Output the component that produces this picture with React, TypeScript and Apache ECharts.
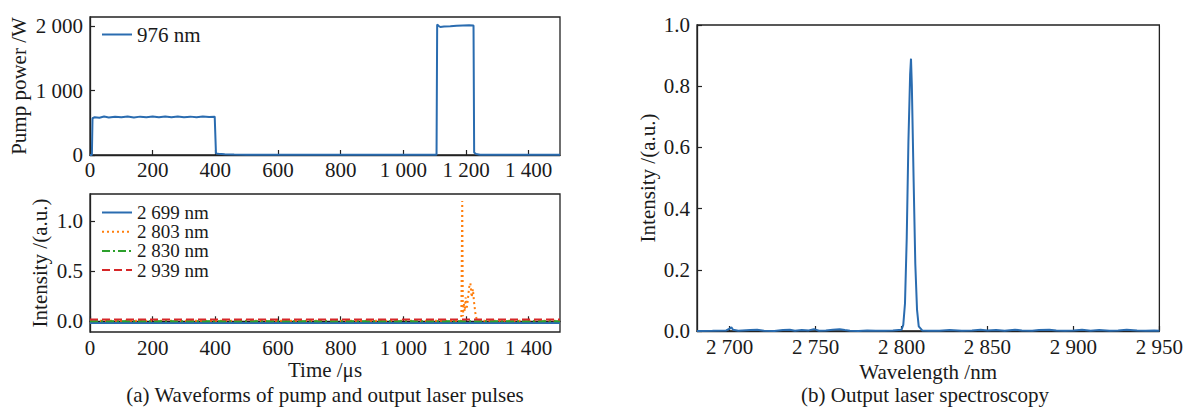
import React, { useEffect, useRef } from "react";
import * as echarts from "echarts";

const FONT = '"Liberation Serif", "Times New Roman", serif';
const TXT = "#1a1a1a";
const FS = 21;
const BLUE = "#2a6cb0";
const ORANGE = "#ff7f0e";
const GREEN = "#2ca02c";
const RED = "#d62728";

// (a) top: pump power (976 nm), [time µs, power W]
const PUMP: number[][] = [
  [0, 0], [6, 0], [8, 570], [15, 585], [30, 578], [45, 596], [60, 582], [80, 594], [100, 584],
  [120, 597], [140, 583], [160, 595], [180, 586], [200, 598], [220, 584], [240, 596], [260, 585],
  [280, 597], [300, 586], [320, 595], [340, 584], [360, 597], [380, 588], [398, 595], [400, 590],
  [402, 25], [410, 18], [430, 12], [460, 8], [500, 5], [550, 2], [600, 3], [700, 2], [800, 3],
  [900, 2], [1000, 3], [1106, 3], [1108, 2025], [1112, 2005], [1118, 1985], [1130, 1992],
  [1150, 1995], [1170, 2003], [1190, 2008], [1210, 2012], [1224, 2010], [1226, 40], [1232, 15],
  [1245, 4], [1300, 2], [1400, 3], [1500, 2],
];

// (a) bottom: output intensities, [time µs, a.u.]
const I_2699: number[][] = [[0, -0.018], [1500, -0.018]];
const I_2803: number[][] = [
  [0, 0.006], [1185, 0.006], [1188, 1.2], [1190, 0.05], [1193, 0.18], [1196, 0.1], [1199, 0.24],
  [1202, 0.12], [1206, 0.22], [1210, 0.34], [1214, 0.38], [1218, 0.24], [1222, 0.32],
  [1226, 0.18], [1230, 0.08], [1234, 0.02], [1237, 0.006], [1500, 0.006],
];
const I_2830: number[][] = [[0, 0.0], [1500, 0.0]];
const I_2939: number[][] = [[0, 0.018], [1500, 0.018]];

// (b) spectrum, [wavelength nm, a.u.]
const SPEC: number[][] = [
  [2681, 0], [2690, 0.001], [2698, 0.002], [2700, 0.008], [2701, 0.012], [2702, 0.004],
  [2705, 0.001], [2712, 0.003], [2716, 0.004], [2720, 0.001], [2726, 0], [2731, 0.003],
  [2735, 0.004], [2738, 0.001], [2742, 0.003], [2746, 0.002], [2749, 0.006], [2752, 0.001],
  [2756, 0.002], [2760, 0.004], [2764, 0.006], [2767, 0.003], [2770, 0.001], [2775, 0],
  [2780, 0.002], [2785, 0.001], [2790, 0.001], [2795, 0.002], [2800, 0.004], [2801, 0.02],
  [2802, 0.09], [2803, 0.3], [2804, 0.62], [2805, 0.84], [2805.5, 0.89], [2806, 0.8],
  [2807, 0.5], [2808, 0.22], [2809, 0.07], [2810, 0.015], [2812, 0.002], [2816, 0.001],
  [2822, 0.001], [2828, 0.003], [2835, 0.001], [2841, 0.002], [2846, 0.004], [2850, 0.002],
  [2855, 0.003], [2860, 0.001], [2866, 0.004], [2870, 0.002], [2876, 0.001], [2880, 0.003],
  [2886, 0.004], [2890, 0.002], [2895, 0.001], [2900, 0.002], [2905, 0.004], [2910, 0.001],
  [2915, 0.003], [2921, 0.001], [2926, 0.002], [2931, 0.004], [2937, 0.002], [2942, 0.001],
  [2947, 0.002], [2950, 0.001],
];

const TIME_TICKS = [0, 200, 400, 600, 800, 1000, 1200, 1400];
const PUMP_TICKS = [0, 1000, 2000];
const INT_TICKS = [0, 0.5, 1.0];
const SPEC_TICKS = [0, 0.2, 0.4, 0.6, 0.8, 1.0];
const WL_TICKS = [2700, 2750, 2800, 2850, 2900, 2950];

const thousands = (v: number) => {
  const s = String(Math.round(v));
  return s.length > 3 ? s.slice(0, s.length - 3) + " " + s.slice(-3) : s;
};

const labelStyle = { fontFamily: FONT, fontSize: FS, color: TXT };
const nameStyle = { fontFamily: FONT, fontSize: FS, color: TXT };

function xAxis(gridIndex: number, min: number, max: number, ticks: number[], name: string, gap: number, margin: number) {
  return {
    type: "value",
    gridIndex,
    min,
    max,
    name,
    nameLocation: "middle",
    nameGap: gap,
    nameTextStyle: nameStyle,
    splitLine: { show: false },
    axisLine: { show: true, lineStyle: { color: "#222", width: 1.3 } },
    axisTick: { show: true, inside: true, length: 5, customValues: ticks, lineStyle: { color: "#222", width: 1.2 } },
    axisLabel: { customValues: ticks, formatter: thousands, margin, ...labelStyle },
  };
}

function yAxis(gridIndex: number, min: number, max: number, ticks: number[], fmt: (v: number) => string, name: string, gap: number) {
  return {
    type: "value",
    gridIndex,
    min,
    max,
    name,
    nameLocation: "middle",
    nameGap: gap,
    nameTextStyle: nameStyle,
    splitLine: { show: false },
    axisLine: { show: true, lineStyle: { color: "#222", width: 1.3 } },
    axisTick: { show: true, inside: true, length: 5, customValues: ticks, lineStyle: { color: "#222", width: 1.2 } },
    axisLabel: { customValues: ticks, formatter: fmt, margin: 7, ...labelStyle },
  };
}

const gridStyle = { show: true, borderColor: "#222", borderWidth: 1.3, containLabel: false };

const legendBase = {
  orient: "vertical",
  padding: 0,
  itemWidth: 30,
  itemHeight: 12,
  itemStyle: { opacity: 0 },
  textStyle: { fontFamily: FONT, fontSize: FS, color: TXT },
};

const option = {
  animation: false,
  backgroundColor: "#ffffff",
  textStyle: { fontFamily: FONT },
  grid: [
    { left: 90, top: 17, width: 470, height: 138, ...gridStyle },
    { left: 90, top: 194, width: 470, height: 138, ...gridStyle },
    { left: 697, top: 25, width: 469, height: 306, ...gridStyle },
  ],
  xAxis: [
    xAxis(0, 0, 1500, TIME_TICKS, "", 0, 4.5),
    xAxis(1, 0, 1500, TIME_TICKS, "Time /μs", 27.5, 5.5),
    xAxis(2, 2681, 2950, WL_TICKS, "Wavelength /nm", 26.5, 5),
  ],
  yAxis: [
    yAxis(0, 0, 2140, PUMP_TICKS, thousands, "Pump power /W", 61),
    yAxis(1, -0.107, 1.27, INT_TICKS, (v: number) => v.toFixed(1), "Intensity /(a.u.)", 39.5),
    yAxis(2, 0, 1, SPEC_TICKS, (v: number) => v.toFixed(1), "Intensity /(a.u.)", 38.5),
  ],
  legend: [
    { ...legendBase, data: ["976 nm"], left: 101, top: 24 },
    {
      ...legendBase,
      data: ["2 699 nm", "2 803 nm", "2 830 nm", "2 939 nm"],
      left: 101,
      top: 203,
      itemGap: 0.2,
      textStyle: { fontFamily: FONT, fontSize: 19, color: TXT },
    },
  ],
  series: [
    {
      name: "976 nm", type: "line", xAxisIndex: 0, yAxisIndex: 0, data: PUMP,
      symbol: "none", lineStyle: { color: BLUE, width: 2 }, itemStyle: { color: BLUE },
    },
    {
      name: "2 699 nm", type: "line", xAxisIndex: 1, yAxisIndex: 1, data: I_2699,
      symbol: "none", lineStyle: { color: BLUE, width: 2 }, itemStyle: { color: BLUE },
    },
    {
      name: "2 803 nm", type: "line", xAxisIndex: 1, yAxisIndex: 1, data: I_2803,
      symbol: "none", lineStyle: { color: ORANGE, width: 2, type: [2, 3] }, itemStyle: { color: ORANGE },
    },
    {
      name: "2 830 nm", type: "line", xAxisIndex: 1, yAxisIndex: 1, data: I_2830,
      symbol: "none", lineStyle: { color: GREEN, width: 2, type: [8, 3, 2, 3] }, itemStyle: { color: GREEN },
    },
    {
      name: "2 939 nm", type: "line", xAxisIndex: 1, yAxisIndex: 1, data: I_2939,
      symbol: "none", lineStyle: { color: RED, width: 2, type: [8, 4] }, itemStyle: { color: RED },
    },
    {
      name: "spectrum", type: "line", xAxisIndex: 2, yAxisIndex: 2, data: SPEC,
      symbol: "none", lineStyle: { color: BLUE, width: 2 }, itemStyle: { color: BLUE },
    },
  ],
  graphic: [
    {
      type: "text", x: 325, y: 395,
      style: {
        text: "(a) Waveforms of pump and output laser pulses", fontFamily: FONT, fontSize: FS,
        fill: TXT, align: "center", verticalAlign: "middle",
      },
    },
    {
      type: "text", x: 925, y: 395,
      style: {
        text: "(b) Output laser spectroscopy", fontFamily: FONT, fontSize: FS,
        fill: TXT, align: "center", verticalAlign: "middle",
      },
    },
  ],
};

export default function App() {
  const ref = useRef<HTMLDivElement>(null);
  useEffect(() => {
    document.body.style.margin = "0";
    const chart = echarts.init(ref.current!, null, { renderer: "svg" });
    chart.setOption(option as any);
    return () => chart.dispose();
  }, []);
  return <div ref={ref} style={{ width: 1186, height: 408 }} />;
}
